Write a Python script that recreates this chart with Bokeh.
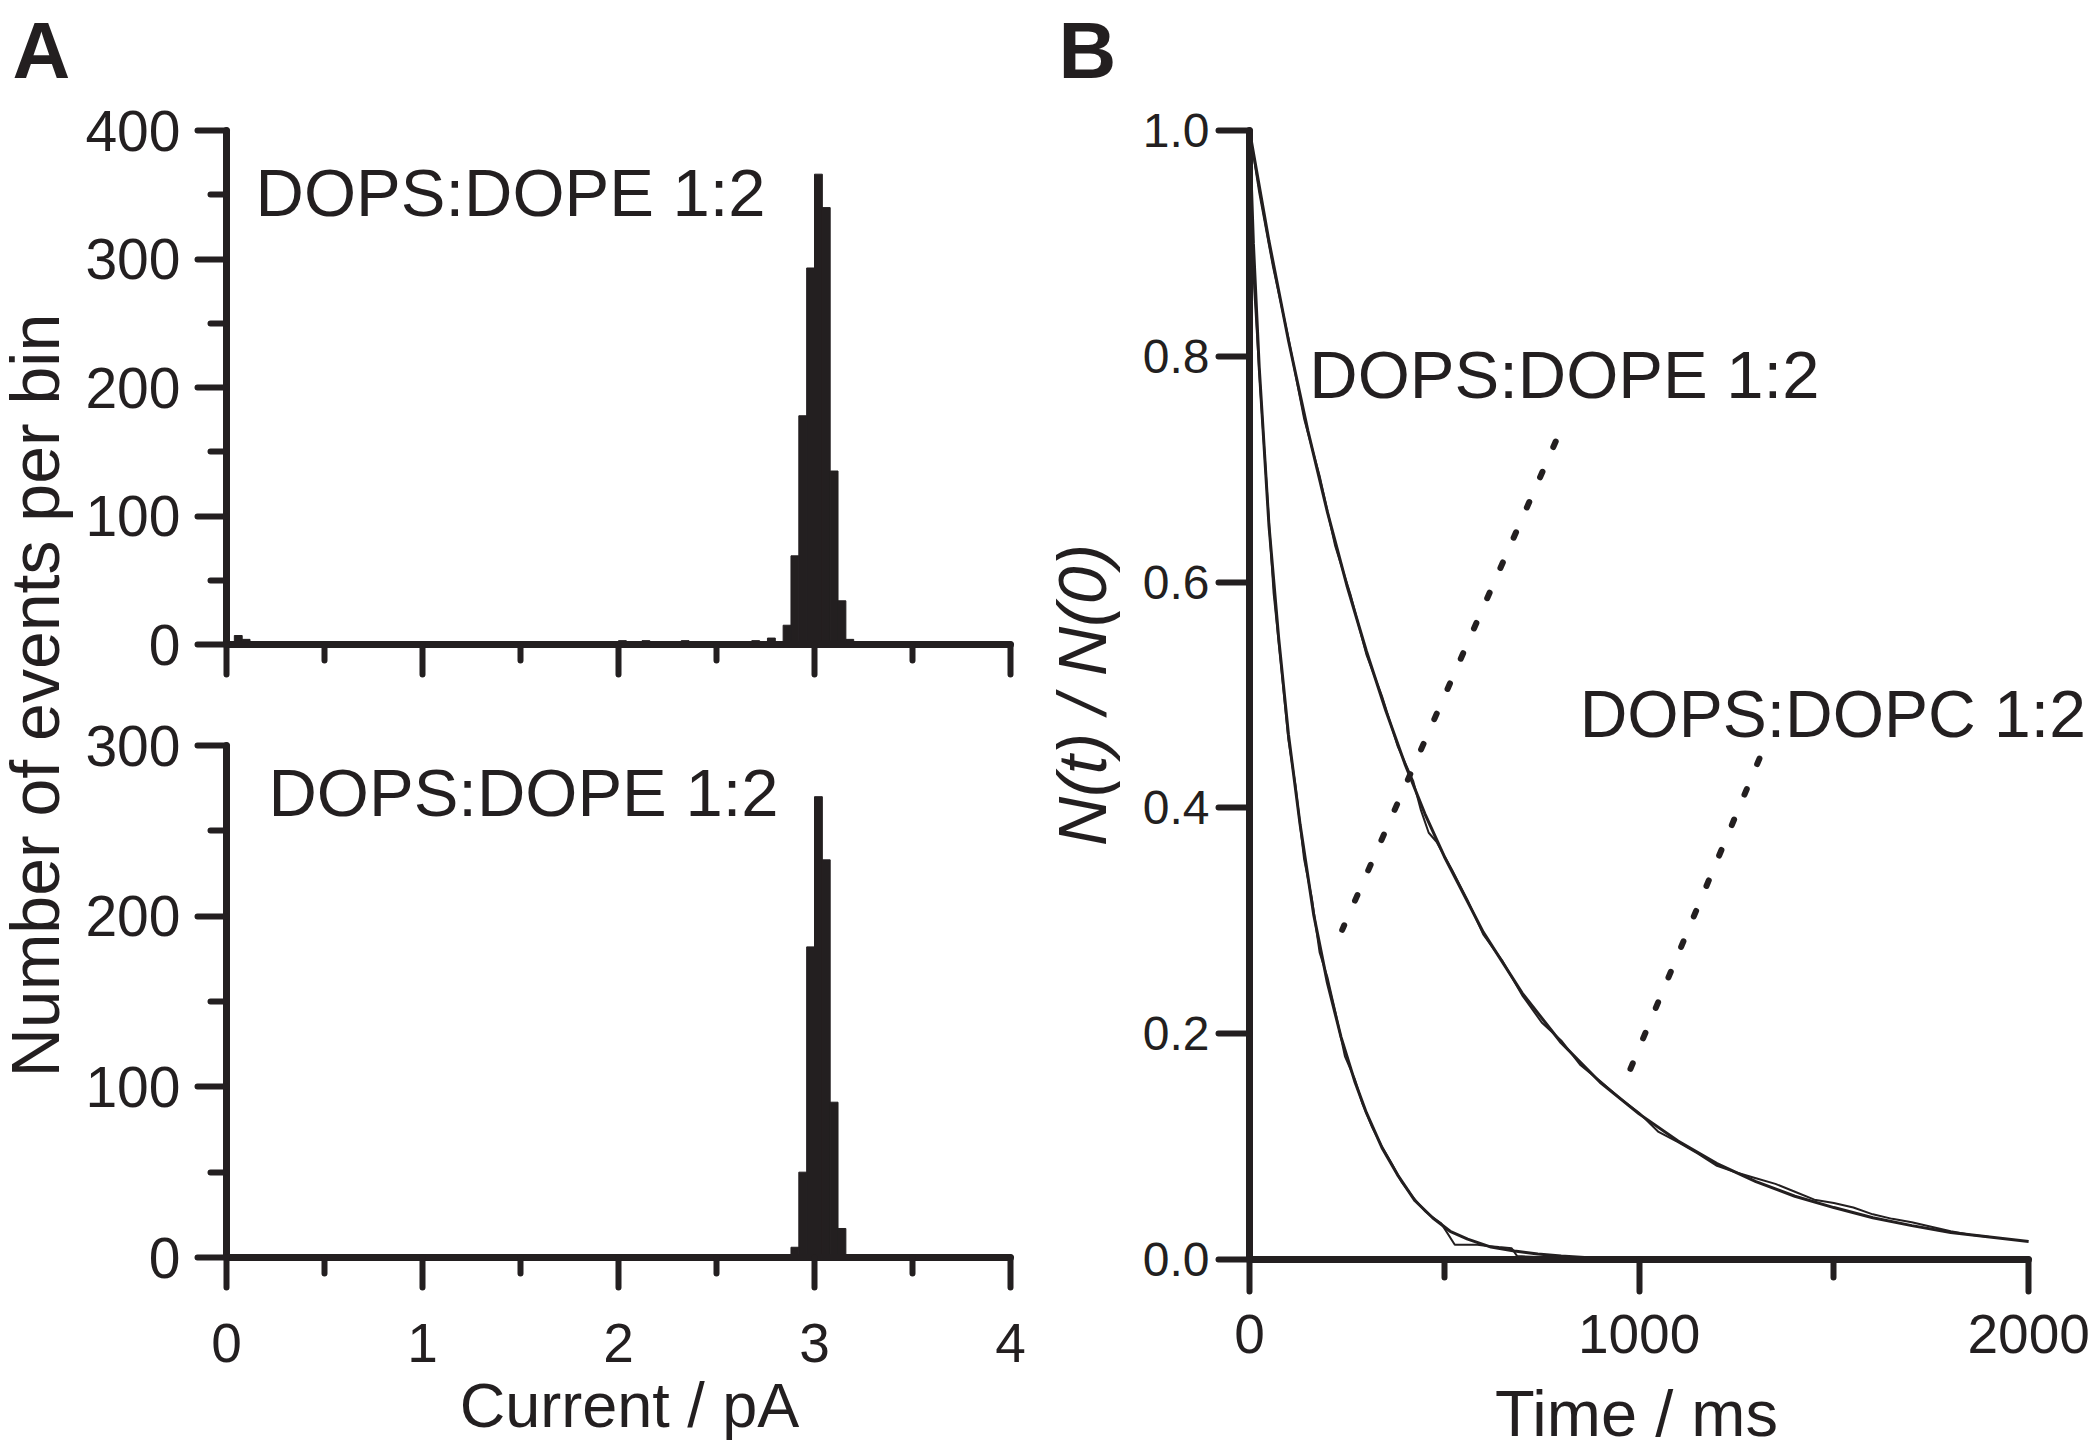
import math
from bokeh.plotting import figure
from bokeh.models import Range1d, FixedTicker, Label, CustomJSTickFormatter, NumeralTickFormatter, ColumnDataSource, Plot
from bokeh.layouts import row, column
from bokeh.embed import file_html
from bokeh.resources import INLINE

INK = "#231f20"
FONT = "Liberation Sans"

# ---------------- data ----------------
bin_width = 0.04
top_bin_left = [0.04, 0.08, 2.00, 2.12, 2.32, 2.68, 2.76, 2.84, 2.88, 2.92, 2.96, 3.00, 3.04, 3.08, 3.12, 3.16]
top_counts = [7, 4, 3, 3, 3, 3, 5, 15, 69, 178, 293, 366, 340, 135, 34, 4]
bot_bin_left = [2.88, 2.92, 2.96, 3.00, 3.04, 3.08, 3.12]
bot_counts = [6, 50, 182, 270, 233, 91, 17]

current_ticks = [0, 1, 2, 3, 4]
current_minor = [0.5, 1.5, 2.5, 3.5]
top_count_ticks = [0, 100, 200, 300, 400]
top_count_minor = [50, 150, 250, 350]
bot_count_ticks = [0, 100, 200, 300]
bot_count_minor = [50, 150, 250]
time_ticks = [0, 1000, 2000]
time_minor = [500, 1500]
ratio_ticks = [0.0, 0.2, 0.4, 0.6, 0.8, 1.0]

# DOPS:DOPE 1:2 (fast decay): fit and measured trace
fast_fit_t = [0, 10, 25, 50, 75, 100, 130, 165, 200, 235, 270, 300, 340, 380, 425, 470, 515, 560, 620, 680, 740, 800, 860, 900]
fast_fit_n = [1.0, 0.90, 0.79, 0.65, 0.55, 0.465, 0.385, 0.305, 0.245, 0.197, 0.158, 0.130, 0.099, 0.075, 0.052, 0.037, 0.025, 0.018, 0.011, 0.0075, 0.0048, 0.003, 0.0018, 0.0012]
fast_data_t = [0, 12, 28, 45, 62, 80, 100, 118, 140, 160, 180, 200, 220, 245, 270, 290, 315, 340, 365, 390, 420, 450, 475, 492, 527, 585, 610, 640, 673, 687, 760, 850]
fast_data_n = [1.0, 0.86, 0.77, 0.68, 0.59, 0.53, 0.46, 0.42, 0.355, 0.32, 0.272, 0.25, 0.22, 0.18, 0.16, 0.138, 0.117, 0.100, 0.085, 0.069, 0.055, 0.043, 0.036, 0.032, 0.013, 0.013, 0.012, 0.011, 0.010, 0.003, 0.002, 0.001]

# DOPS:DOPC 1:2 (slow decay): fit and measured trace
slow_fit_t = [0, 50, 100, 150, 200, 250, 300, 350, 400, 450, 500, 600, 700, 800, 900, 1000, 1100, 1200, 1300, 1400, 1500, 1600, 1700, 1800, 1900, 2000]
slow_fit_n = [1.0, 0.902, 0.814, 0.734, 0.662, 0.597, 0.539, 0.486, 0.438, 0.395, 0.357, 0.290, 0.236, 0.192, 0.157, 0.129, 0.105, 0.085, 0.069, 0.056, 0.046, 0.037, 0.030, 0.024, 0.020, 0.016]
slow_data_t = [0, 25, 60, 100, 140, 180, 220, 260, 300, 340, 380, 420, 440, 460, 480, 520, 560, 600, 650, 700, 750, 800, 850, 900, 950, 1000, 1050, 1100, 1150, 1200, 1250, 1300, 1350, 1400, 1450, 1500, 1550, 1600, 1650, 1700, 1750, 1800, 1850, 1900]
slow_data_n = [1.0, 0.945, 0.880, 0.816, 0.745, 0.694, 0.632, 0.588, 0.536, 0.499, 0.455, 0.424, 0.398, 0.378, 0.370, 0.345, 0.318, 0.288, 0.264, 0.234, 0.210, 0.194, 0.172, 0.158, 0.143, 0.130, 0.113, 0.104, 0.094, 0.083, 0.077, 0.072, 0.067, 0.060, 0.053, 0.050, 0.046, 0.040, 0.036, 0.033, 0.029, 0.025, 0.022, 0.020]

# pointer (dotted) lines: label anchor -> curve
pointer_x0 = [786, 1309]
pointer_y0 = [0.7245, 0.4437]
pointer_x1 = [238, 972]
pointer_y1 = [0.292, 0.164]

# ---------------- helpers ----------------
FA = {}
try:
    Plot.lookup("frame_align")
    FA = {"frame_align": False}
except Exception:
    FA = {}


def new_fig(w, h, xr, yr, left, right, top, bottom):
    p = figure(width=w, height=h, x_range=xr, y_range=yr,
               min_border_left=left, min_border_right=right,
               min_border_top=top, min_border_bottom=bottom,
               output_backend="svg", toolbar_location=None, **FA)
    p.xgrid.visible = False
    p.ygrid.visible = False
    p.outline_line_color = None
    p.background_fill_color = "white"
    p.border_fill_color = "white"
    return p


def strip(w, h):
    s = figure(width=w, height=h, x_range=Range1d(0, w), y_range=Range1d(0, h),
               x_axis_location=None, y_axis_location=None, min_border=0,
               output_backend="svg", toolbar_location=None, **FA)
    s.outline_line_color = None
    s.grid.visible = False
    return s


def style_axis(ax, ticks, minor, label_px, standoff, tick_out, minor_out):
    ax.ticker = FixedTicker(ticks=ticks, minor_ticks=minor)
    ax.axis_line_width = 7
    ax.axis_line_color = INK
    ax.axis_line_cap = "round"
    ax.major_tick_line_width = 6
    ax.major_tick_line_color = INK
    ax.major_tick_line_cap = "round"
    ax.major_tick_in = 0
    ax.major_tick_out = tick_out
    ax.minor_tick_line_width = 6
    ax.minor_tick_line_color = INK
    ax.minor_tick_line_cap = "round"
    ax.minor_tick_in = 0
    ax.minor_tick_out = minor_out
    ax.major_label_text_font = FONT
    ax.major_label_text_font_size = f"{label_px}px"
    ax.major_label_text_color = INK
    ax.major_label_standoff = standoff


def add_label(p, x, y, text, size, style="normal", align="left", angle=0.0):
    p.add_layout(Label(x=x, y=y, text=text, text_font=FONT, text_font_size=f"{size}px",
                       text_font_style=style, text_color=INK, text_align=align,
                       text_baseline="alphabetic", angle=angle))


TOTAL_H = 1444

# ---------------- left label strip: "A" and panel A y-title ----------------
lab = strip(80, TOTAL_H)                     # page x 0..80
add_label(lab, 34.5, 749, "Number of events per bin", 68, align="center", angle=math.pi / 2)
add_label(lab, 12, 1393.6, "A", 80, style="bold")

# ---------------- panel A top ----------------
pa = new_fig(960, 690, Range1d(0, 4), Range1d(0, 400), 146, 30, 130, 46)
src_top = ColumnDataSource(dict(left=top_bin_left,
                                right=[b + bin_width for b in top_bin_left],
                                top=top_counts))
pa.quad(left="left", right="right", bottom=0, top="top", source=src_top,
        fill_color=INK, line_color=INK, line_width=1)
style_axis(pa.yaxis[0], top_count_ticks, top_count_minor, 57, 17, 29, 16)
style_axis(pa.xaxis[0], current_ticks, current_minor, 1, 0, 30, 16)
pa.xaxis[0].formatter = CustomJSTickFormatter(code="return ''")
add_label(pa, 0.148, 351.8, "DOPS:DOPE 1:2", 67)

# ---------------- panel A bottom ----------------
pb = new_fig(960, 690, Range1d(0, 4), Range1d(0, 300), 146, 30, 55, 123)
src_bot = ColumnDataSource(dict(left=bot_bin_left,
                                right=[b + bin_width for b in bot_bin_left],
                                top=bot_counts))
pb.quad(left="left", right="right", bottom=0, top="top", source=src_bot,
        fill_color=INK, line_color=INK, line_width=1)
style_axis(pb.yaxis[0], bot_count_ticks, bot_count_minor, 57, 17, 29, 16)
style_axis(pb.xaxis[0], current_ticks, current_minor, 55, 36, 30, 16)
add_label(pb, 0.214, 272.5, "DOPS:DOPE 1:2", 67)

xa = strip(960, TOTAL_H - 1380)              # page y 1380..1444
add_label(xa, 549, 39.7, "Current / pA", 63, align="center")

# ---------------- panel B ----------------
bs = strip(1053, 80)                         # page y 0..80
add_label(bs, 18, 29.6, "B", 80, style="bold")

pB = new_fig(1053, 1300, Range1d(0, 2153.65), Range1d(0, 1.0), 207, 5, 50, 121)
pB.line(slow_fit_t, slow_fit_n, line_width=3, line_color=INK)
pB.line(slow_data_t, slow_data_n, line_width=2, line_color=INK)
pB.line(fast_fit_t, fast_fit_n, line_width=3, line_color=INK)
pB.line(fast_data_t, fast_data_n, line_width=2, line_color=INK)
pB.segment(x0=pointer_x0, y0=pointer_y0, x1=pointer_x1, y1=pointer_y1,
           line_width=6, line_color=INK, line_dash="6 27", line_cap="round")
style_axis(pB.yaxis[0], ratio_ticks, [], 48, 9, 31, 0)
pB.yaxis[0].formatter = NumeralTickFormatter(format="0.0")
pB.yaxis[0].axis_label = "N(t) / N(0)"
pB.yaxis[0].axis_label_text_font = FONT
pB.yaxis[0].axis_label_text_font_size = "68px"
pB.yaxis[0].axis_label_text_font_style = "italic"
pB.yaxis[0].axis_label_text_color = INK
pB.yaxis[0].axis_label_standoff = 20
style_axis(pB.xaxis[0], time_ticks, time_minor, 55, 23, 32, 18)
pB.xaxis[0].bounds = (0, 2000)
add_label(pB, 153.6, 0.784, "DOPS:DOPE 1:2", 67)
add_label(pB, 847.6, 0.4834, "DOPS:DOPC 1:2", 66)

xb = strip(1053, TOTAL_H - 1380)             # page y 1380..1444
add_label(xb, 596, 30.6, "Time / ms", 65, align="center")

layout = row(lab, column(pa, pb, xa), column(bs, pB, xb))
open("out.html", "w").write(file_html(layout, INLINE))
